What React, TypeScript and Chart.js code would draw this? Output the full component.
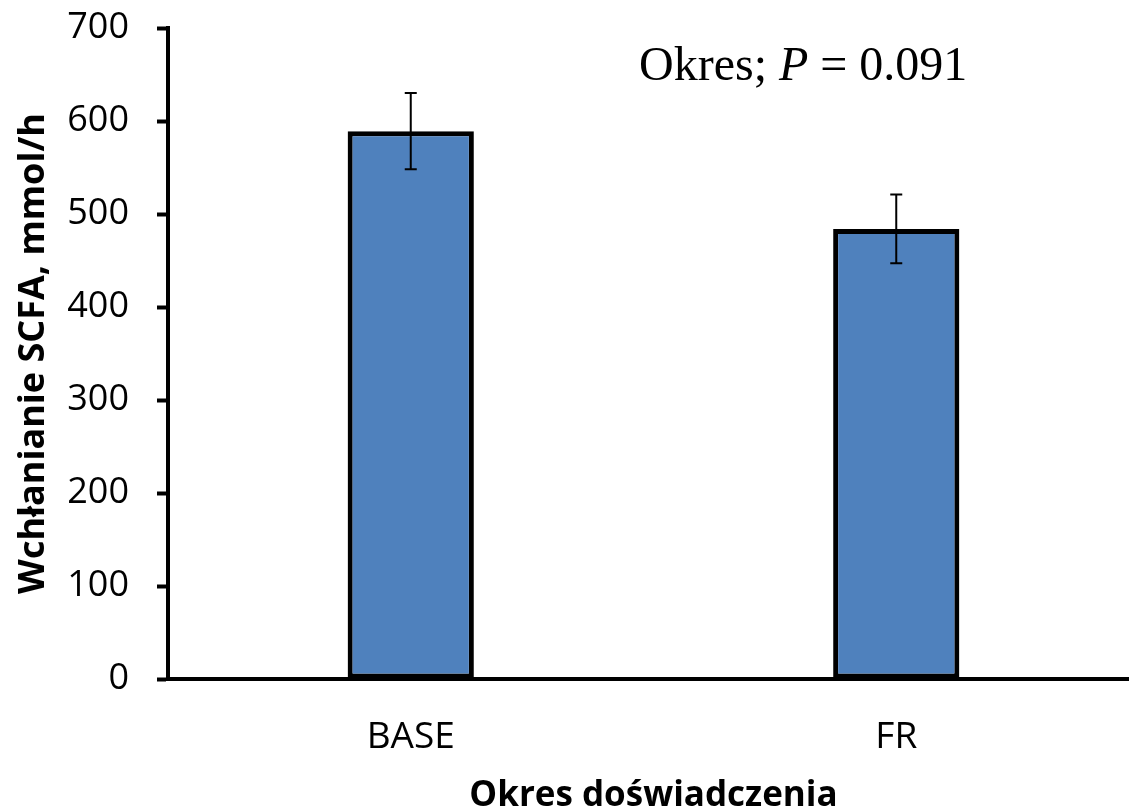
import React, { useEffect, useRef } from "react";
import { Chart, registerables } from "chart.js";

Chart.register(...registerables);

const categories = ["BASE", "FR"];
const values = [589, 484];
const errors = [41, 37];
const yTicks = [0, 100, 200, 300, 400, 500, 600, 700];

const xTitle = "Okres doświadczenia";
const yTitle = "Wchłanianie SCFA, mmol/h";

const errorBarPlugin = {
  id: "errorBars",
  afterDatasetsDraw(chart: any) {
    const ctx = chart.ctx;
    const meta = chart.getDatasetMeta(0);
    const yScale = chart.scales.y;
    ctx.save();
    ctx.strokeStyle = "#000";
    ctx.lineWidth = 2;
    meta.data.forEach((bar: any, i: number) => {
      const x = bar.x;
      const yTop = yScale.getPixelForValue(values[i] + errors[i]);
      const yBot = yScale.getPixelForValue(values[i] - errors[i]);
      ctx.beginPath();
      ctx.moveTo(x, yTop);
      ctx.lineTo(x, yBot);
      ctx.moveTo(x - 6, yTop);
      ctx.lineTo(x + 6, yTop);
      ctx.moveTo(x - 6, yBot);
      ctx.lineTo(x + 6, yBot);
      ctx.stroke();
    });
    ctx.restore();
  },
};

const annotationPlugin = {
  id: "pAnnotation",
  afterDraw(chart: any) {
    const ctx = chart.ctx;
    ctx.save();
    ctx.fillStyle = "#000";
    ctx.textBaseline = "alphabetic";
    ctx.textAlign = "left";
    const parts = [
      { t: "Okres; ", f: "48px 'Liberation Serif'" },
      { t: "P", f: "italic 48px 'Liberation Serif'" },
      { t: " = 0.091", f: "48px 'Liberation Serif'" },
    ];
    let x = 639;
    const y = 80;
    parts.forEach((p) => {
      ctx.font = p.f;
      ctx.fillText(p.t, x, y);
      x += ctx.measureText(p.t).width;
    });
    ctx.restore();
  },
};

export default function App() {
  const canvasRef = useRef<HTMLCanvasElement | null>(null);

  useEffect(() => {
    if (!canvasRef.current) return;
    const chart = new Chart(canvasRef.current, {
      type: "bar",
      data: {
        labels: categories,
        datasets: [
          {
            data: values,
            backgroundColor: "#4F81BD",
            borderColor: "#000",
            borderWidth: 5,
            borderSkipped: false,
            categoryPercentage: 0.26,
            barPercentage: 1,
          },
        ],
      },
      plugins: [errorBarPlugin, annotationPlugin],
      options: {
        animation: false,
        responsive: false,
        maintainAspectRatio: false,
        layout: { padding: { top: 28, left: 0, right: 0, bottom: 0 } },
        plugins: {
          legend: { display: false },
          tooltip: { enabled: false },
        },
        scales: {
          x: {
            afterFit(scale: any) {
              scale.height = 130;
            },
            grid: { display: false, drawTicks: false },
            border: { display: true, color: "#000", width: 4 },
            ticks: {
              color: "#000",
              padding: 36,
              font: { family: "'Open Sans'", size: 37 },
            },
            title: {
              display: true,
              text: xTitle,
              color: "#000",
              padding: { top: 0, bottom: -8 },
              font: { family: "'Open Sans'", size: 35, weight: "bold" },
            },
          },
          y: {
            min: 0,
            max: 700,
            afterFit(scale: any) {
              scale.width = 168;
              scale.paddingTop = 0;
              scale.paddingBottom = 0;
            },
            afterBuildTicks(scale: any) {
              scale.ticks = yTicks.map((v) => ({ value: v }));
            },
            grid: {
              display: true,
              drawOnChartArea: false,
              drawTicks: true,
              tickLength: 11,
              tickWidth: 4,
              tickColor: "#000",
            },
            border: { display: true, color: "#000", width: 4 },
            ticks: {
              color: "#000",
              padding: 28,
              font: { family: "'Open Sans'", size: 36, lineHeight: 0.5 },
            },
            title: {
              display: true,
              text: yTitle,
              color: "#000",
              padding: { top: 12, bottom: 0 },
              font: { family: "'Open Sans'", size: 36, weight: "bold" },
            },
          },
        },
      },
    });
    return () => chart.destroy();
  }, []);

  return (
    <div style={{ position: "fixed", left: 0, top: 0, width: 1139, height: 809, background: "#fff" }}>
      <canvas ref={canvasRef} width={1139} height={809} style={{ width: 1139, height: 809 }} />
    </div>
  );
}
